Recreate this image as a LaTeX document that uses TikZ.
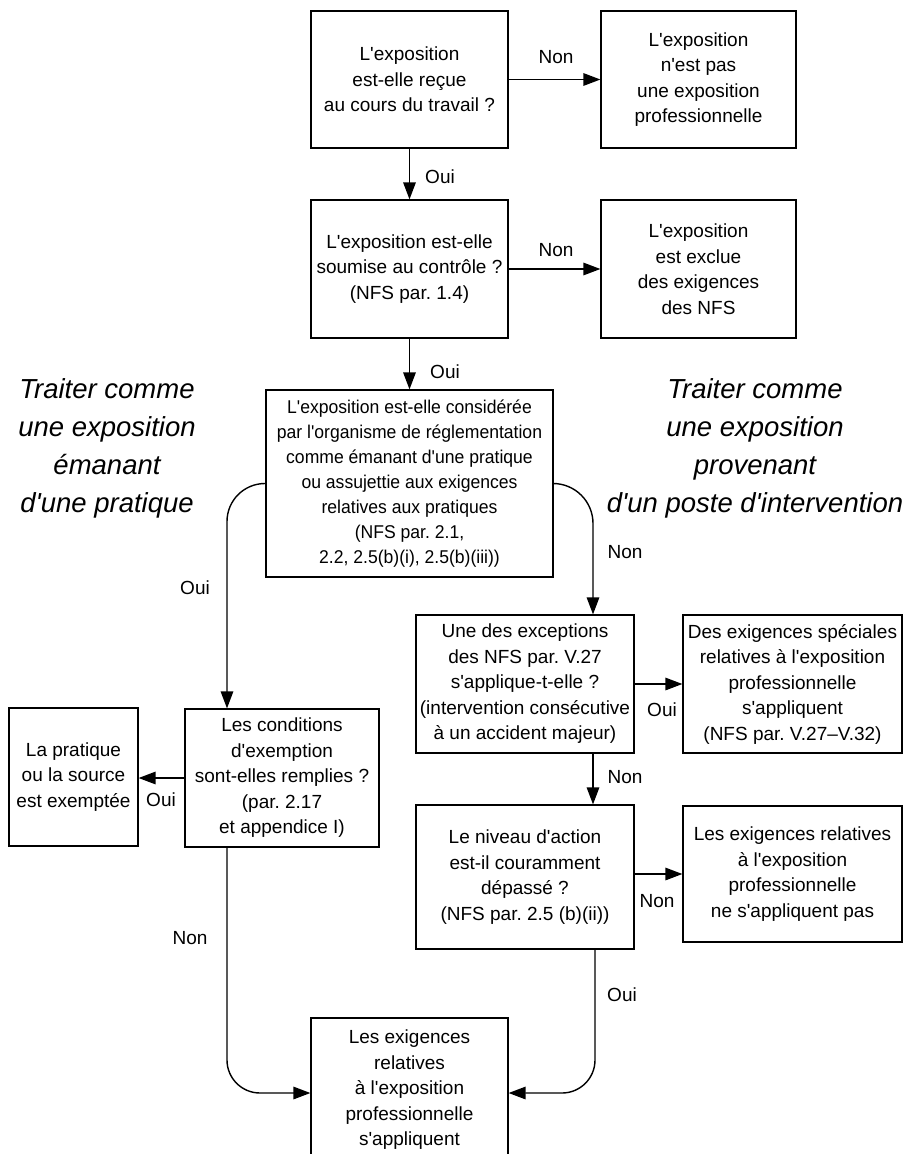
\documentclass[tikz,border=0pt]{standalone}
\usepackage{fontspec}
\newfontfamily\mainsans{Liberation Sans}
\newfontfamily\condfont[FakeStretch=0.95]{Liberation Sans}
\usetikzlibrary{arrows.meta}
\frenchspacing
\begin{document}
\begin{tikzpicture}[x=1pt,y=-1pt,
  box/.style={draw, line width=1.2pt, inner sep=0pt, align=center, font=\mainsans\fontsize{19pt}{25.5pt}\selectfont},
  condbox/.style={draw, line width=1.2pt, inner sep=0pt, align=center, font=\condfont\fontsize{18.5pt}{25pt}\selectfont},
  lab/.style={inner sep=0pt, font=\mainsans\fontsize{19pt}{25.5pt}\selectfont},
  big/.style={inner sep=0pt, align=center, font=\mainsans\fontsize{27.5pt}{38pt}\selectfont\itshape},
  arr/.style={line width=1.4pt, -{Triangle[length=17pt,width=12.5pt]}}
]
\clip (0,0) rectangle (912,1154);

% boxes
\node[box, minimum width=197pt, minimum height=137pt] (b1) at (409.5,79.5) {L'exposition\\est-elle reçue\\au cours du travail ?};
\node[box, minimum width=195pt, minimum height=137pt] (b2) at (698.5,79.5) {L'exposition\\n'est pas\\une exposition\\professionnelle};
\node[box, minimum width=197pt, minimum height=138pt] (b3) at (409.5,269) {L'exposition est-elle\\soumise au contrôle ?\\(NFS par. 1.4)};
\node[box, minimum width=195pt, minimum height=138pt] (b4) at (698.5,269) {L'exposition\\est exclue\\des exigences\\des NFS};
\node[condbox, minimum width=287pt, minimum height=187pt] (b5) at (409.5,483.5) {L'exposition est-elle considérée\\par l'organisme de réglementation\\comme émanant d'une pratique\\ou assujettie aux exigences\\relatives aux pratiques\\(NFS par. 2.1,\\2.2, 2.5(b)(i), 2.5(b)(iii))};
\node[box, minimum width=218pt, minimum height=138pt] (b6) at (525,684) {Une des exceptions\\des NFS par. V.27\\s'applique-t-elle ?\\(intervention consécutive\\à un accident majeur)};
\node[box, minimum width=219pt, minimum height=138pt] (b6r) at (792.5,684) {Des exigences spéciales\\relatives à l'exposition\\professionnelle\\s'appliquent\\(NFS par. V.27–V.32)};
\node[box, minimum width=194pt, minimum height=138pt] (b7) at (282,778) {Les conditions\\d'exemption\\sont-elles remplies ?\\(par. 2.17\\et appendice I)};
\node[box, minimum width=129pt, minimum height=138pt] (b8) at (73.5,777) {La pratique\\ou la source\\est exemptée};
\node[box, minimum width=218pt, minimum height=144pt] (b9) at (525,877) {Le niveau d'action\\est-il couramment\\dépassé ?\\(NFS par. 2.5 (b)(ii))};
\node[box, minimum width=219pt, minimum height=136pt] (b10) at (792.5,874) {Les exigences relatives\\à l'exposition\\professionnelle\\ne s'appliquent pas};
\node[box, minimum width=197pt, minimum height=144pt] (b11) at (409.5,1090) {Les exigences\\relatives\\à l'exposition\\professionnelle\\s'appliquent};

% side texts
\node[big] (tl) at (107,448) {Traiter comme\\une exposition\\émanant\\d'une pratique};
\node[big] (tr) at (755,448) {Traiter comme\\une exposition\\provenant\\d'un poste d'intervention};

% connectors
\draw[arr] (b1.east) -- (b2.west);
\draw[arr] (b1.south) -- (b3.north);
\draw[arr] (b3.east) -- (b4.west);
\draw[arr] (b3.south) -- (b5.north);
\draw[arr, rounded corners=38pt] (b5.west) -| ([xshift=-55pt]b7.north);
\draw[arr, rounded corners=40pt] (b5.east) -| ([xshift=68pt]b6.north);
\draw[arr] (b6.east) -- (b6r.west);
\draw[arr] ([xshift=68pt]b6.south) -- ([xshift=68pt]b9.north);
\draw[arr] (b9.east |- b10.west) -- (b10.west);
\draw[arr] (b7.west) -- (b7.west -| b8.east);
\draw[arr, rounded corners=33pt] ([xshift=-55pt]b7.south) |- ([yshift=-3pt]b11.west);
\draw[arr, rounded corners=33pt] ([xshift=70pt]b9.south) |- ([yshift=-3pt]b11.east);

% labels
\node[lab] (l1) at (556,57) {Non};
\node[lab] (l2) at (440,177) {Oui};
\node[lab] (l3) at (556,250) {Non};
\node[lab] (l4) at (445,372) {Oui};
\node[lab] (l5) at (195,588) {Oui};
\node[lab] (l6) at (625,552) {Non};
\node[lab] (l7) at (161,800) {Oui};
\node[lab] (l8) at (662,710) {Oui};
\node[lab] (l9) at (625,777) {Non};
\node[lab] (l10) at (657,901) {Non};
\node[lab] (l11) at (190,938) {Non};
\node[lab] (l12) at (622,995) {Oui};
\end{tikzpicture}
\end{document}
